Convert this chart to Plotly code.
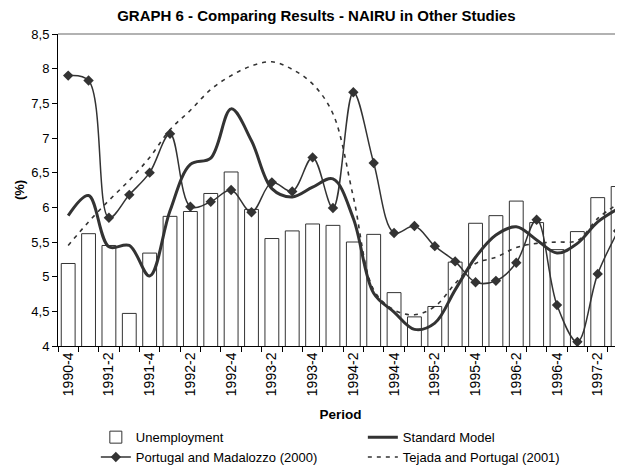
"""GRAPH 6 - NAIRU comparison chart."""
import plotly.graph_objects as go

FONT = "Liberation Sans, Arial, sans-serif"
INK = "#333333"

periods = [
    "1990-4", "1991-1", "1991-2", "1991-3", "1991-4", "1992-1", "1992-2",
    "1992-3", "1992-4", "1993-1", "1993-2", "1993-3", "1993-4", "1994-1",
    "1994-2", "1994-3", "1994-4", "1995-1", "1995-2", "1995-3", "1995-4",
    "1996-1", "1996-2", "1996-3", "1996-4", "1997-1", "1997-2", "1997-3",
]

unemployment = [
    5.19, 5.62, 5.45, 4.47, 5.34, 5.87, 5.94, 6.20, 6.51, 5.97, 5.55, 5.66,
    5.76, 5.74, 5.50, 5.61, 4.77, 4.42, 4.57, 5.21, 5.77, 5.88, 6.09, 5.78,
    5.39, 5.65, 6.14, 6.30,
]

standard_model = [
    5.88, 6.17, 5.43, 5.45, 5.01, 5.95, 6.62, 6.71, 7.42, 6.96, 6.27, 6.15,
    6.29, 6.41, 5.84, 4.76, 4.49, 4.24, 4.33, 4.81, 5.28, 5.60, 5.72, 5.53,
    5.34, 5.48, 5.79, 5.98,
]

portugal_madalozzo = [
    7.90, 7.83, 5.85, 6.18, 6.50, 7.06, 6.01, 6.08, 6.25, 5.93, 6.36, 6.23,
    6.72, 5.99, 7.66, 6.64, 5.63, 5.73, 5.44, 5.22, 4.92, 4.94, 5.20, 5.82,
    4.59, 4.06, 5.04, 5.66,
]

tejada_portugal = [
    5.45, 5.79, 6.10, 6.39, 6.72, 7.12, 7.40, 7.70, 7.90, 8.04, 8.10, 7.99,
    7.78, 7.35, 6.15, 4.81, 4.52, 4.45, 4.57, 4.90, 5.19, 5.28, 5.42, 5.48,
    5.50, 5.52, 5.84, 6.05,
]

tick_text = [p if i % 2 == 0 else "" for i, p in enumerate(periods)]

fig = go.Figure()
fig.add_trace(go.Bar(
    x=periods, y=unemployment, base=0, name="Unemployment",
    marker=dict(color="white", line=dict(color=INK, width=1)),
))
fig.add_trace(go.Scatter(
    x=periods, y=standard_model, name="Standard Model", mode="lines",
    line=dict(color=INK, width=3, shape="spline", smoothing=1),
))
fig.add_trace(go.Scatter(
    x=periods, y=portugal_madalozzo, name="Portugal and Madalozzo (2000)",
    mode="lines+markers",
    line=dict(color=INK, width=1.5, shape="spline", smoothing=1),
    marker=dict(symbol="diamond", size=8, color=INK),
))
fig.add_trace(go.Scatter(
    x=periods, y=tejada_portugal, name="Tejada and Portugal (2001)",
    mode="lines",
    line=dict(color=INK, width=1.6, dash="4px,5px", shape="spline", smoothing=1),
))

# the page body has an 8px margin, so the figure is nudged up/left by that much
fig.update_layout(
    width=623, height=475,
    margin=dict(l=50, r=8, t=26, b=137, autoexpand=False),
    paper_bgcolor="white", plot_bgcolor="white",
    font=dict(family=FONT, size=13, color="black"),
    separators=",.",
    bargap=0.32,
    showlegend=True,
    title=dict(
        text="<b>GRAPH 6 - Comparing Results - NAIRU in Other Studies</b>",
        x=0.495, xref="container", xanchor="center",
        y=0.984, yref="container", yanchor="middle",
        font=dict(size=15),
    ),
    legend=dict(
        orientation="h", x=0.141, xref="container", xanchor="left",
        y=0.128, yref="container", yanchor="top",
        entrywidth=222, font=dict(size=13), traceorder="normal",
        itemwidth=30,
    ),
    shapes=[dict(
        type="line", xref="paper", yref="paper", x0=0, x1=1, y0=1, y1=1,
        line=dict(color="#999999", width=1.5),
    )],
)

fig.update_xaxes(
    type="category", range=[-0.5, 27.24], automargin=False,
    tickmode="array", tickvals=periods, ticktext=tick_text,
    tickangle=-90, tickson="boundaries", ticks="outside", ticklen=5,
    tickcolor="black", showline=True, linecolor="black", linewidth=1,
    showgrid=False, tickfont=dict(size=14),
    title=dict(text="<b>Period</b>", font=dict(size=13.5), standoff=17),
)
fig.update_yaxes(
    range=[4, 8.5], dtick=0.5, tick0=4, automargin=False,
    ticks="outside", ticklen=5, tickcolor="black",
    showline=True, linecolor="black", linewidth=1,
    showgrid=False, zeroline=False, tickfont=dict(size=13),
    title=dict(text="<b>(%)</b>", font=dict(size=13), standoff=3),
)

fig.write_html("out.html")
